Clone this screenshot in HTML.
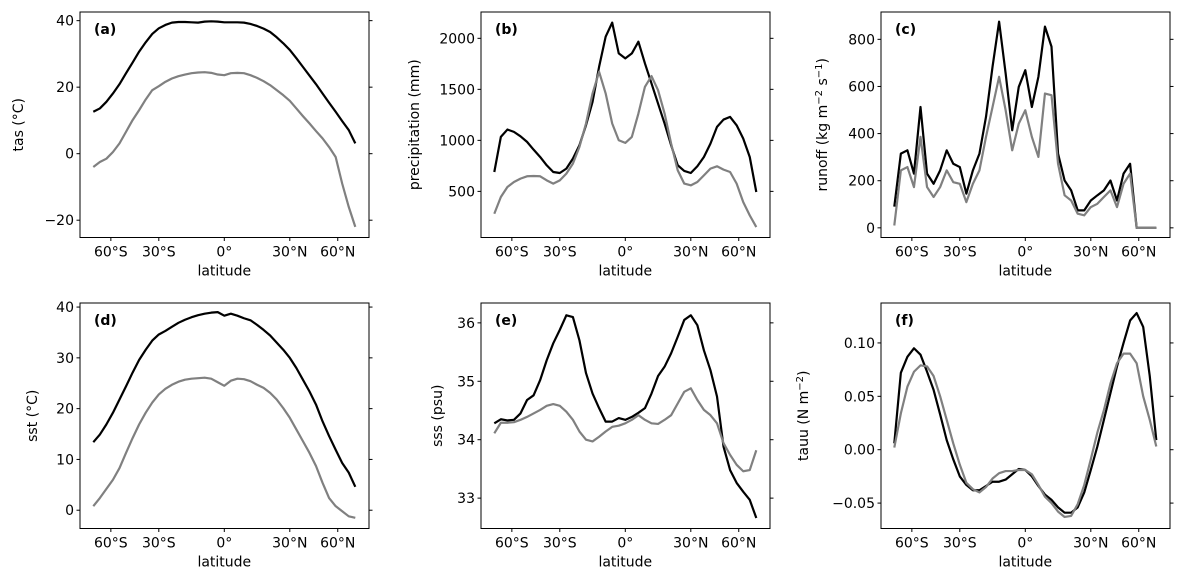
<!DOCTYPE html>
<html><head><meta charset="utf-8">
<style>
html,body{margin:0;padding:0;background:#fff;}
svg{display:block;font-family:"DejaVu Sans","Liberation Sans",sans-serif;}
</style></head>
<body>
<svg id="fig" width="1186" height="582" viewBox="0 0 1186 582" xmlns="http://www.w3.org/2000/svg"></svg>
<script>
// x positions sampled uniformly in sin(latitude), -1..1 step 0.05
const sinLat = [];
for (let k = 0; k <= 40; k++) sinLat.push(-1 + k * 0.05);
const xTickLabels = ["60°S", "30°S", "0°", "30°N", "60°N"];
const xTickLats = [-60, -30, 0, 30, 60];

const tasBlack = [12.6,13.6,15.6,18.1,20.9,24.2,27.4,30.7,33.5,36.0,37.7,38.7,39.4,39.6,39.6,39.5,39.4,39.7,39.8,39.7,39.5,39.5,39.5,39.4,39.0,38.4,37.6,36.6,35.0,33.2,31.2,28.7,26.1,23.5,20.9,18.1,15.3,12.6,9.8,7.1,3.1];
const tasGray = [-4.0,-2.5,-1.5,0.5,3.1,6.6,10.1,13.1,16.3,19.1,20.3,21.6,22.6,23.3,23.8,24.2,24.4,24.5,24.3,23.8,23.6,24.2,24.3,24.2,23.6,22.8,21.8,20.6,19.1,17.6,15.9,13.6,11.3,9.1,6.8,4.6,2.0,-1.0,-9.0,-16.0,-22.0];
const prBlack = [690,1034,1106,1083,1040,985,909,837,756,690,680,723,821,952,1148,1378,1721,2016,2154,1852,1803,1852,1967,1754,1558,1361,1165,952,756,700,680,746,837,968,1132,1204,1230,1148,1018,837,494];
const prGray = [281,445,543,592,625,648,651,648,608,576,608,674,772,936,1165,1460,1672,1460,1165,1001,975,1034,1263,1525,1630,1492,1263,968,707,576,559,592,657,723,746,713,690,576,396,265,150];
const roBlack = [90,315,329,230,513,230,187,244,329,272,258,145,244,315,471,684,875,655,414,598,669,513,641,854,769,315,201,159,74,74,116,138,159,201,116,230,272,0,0,0,0];
const roGray = [10,244,258,173,386,173,131,173,244,194,187,109,187,244,386,513,641,499,329,442,499,386,301,570,563,272,138,116,60,53,88,102,131,159,88,187,230,0,0,0,0];
const sstBlack = [13.4,14.9,16.9,19.2,21.8,24.4,27.1,29.6,31.6,33.4,34.6,35.3,36.1,36.9,37.5,38.0,38.4,38.7,38.9,39.0,38.3,38.7,38.3,37.8,37.4,36.5,35.5,34.4,33.0,31.6,30.0,28.0,25.7,23.4,20.8,17.5,14.6,11.9,9.3,7.4,4.6];
const sstGray = [0.8,2.4,4.2,6.0,8.3,11.3,14.2,16.9,19.2,21.2,22.8,23.9,24.7,25.3,25.7,25.9,26.0,26.1,25.9,25.2,24.5,25.5,25.9,25.8,25.4,24.7,24.1,23.1,21.8,20.1,18.2,15.9,13.6,11.3,8.7,5.4,2.4,0.8,-0.2,-1.2,-1.5];
const sssBlack = [34.28,34.35,34.33,34.34,34.45,34.68,34.76,35.02,35.36,35.65,35.88,36.13,36.10,35.70,35.14,34.79,34.54,34.31,34.31,34.37,34.34,34.39,34.46,34.54,34.79,35.09,35.25,35.48,35.76,36.05,36.13,35.96,35.53,35.19,34.74,33.88,33.48,33.26,33.11,32.97,32.66];
const sssGray = [34.11,34.29,34.29,34.30,34.34,34.39,34.45,34.51,34.58,34.61,34.58,34.48,34.34,34.14,34.00,33.97,34.05,34.14,34.22,34.24,34.28,34.34,34.42,34.34,34.28,34.27,34.34,34.42,34.62,34.82,34.88,34.68,34.51,34.42,34.28,33.94,33.74,33.57,33.46,33.48,33.82];
const tauBlack = [0.006,0.072,0.087,0.095,0.089,0.073,0.056,0.033,0.009,-0.009,-0.025,-0.033,-0.038,-0.038,-0.034,-0.030,-0.030,-0.028,-0.023,-0.018,-0.019,-0.025,-0.034,-0.042,-0.047,-0.054,-0.059,-0.059,-0.054,-0.040,-0.019,0.003,0.028,0.053,0.078,0.100,0.121,0.128,0.115,0.069,0.009];
const tauGray = [0.002,0.034,0.059,0.073,0.079,0.078,0.069,0.050,0.028,0.006,-0.014,-0.031,-0.037,-0.040,-0.035,-0.027,-0.022,-0.020,-0.020,-0.019,-0.019,-0.023,-0.033,-0.044,-0.050,-0.058,-0.063,-0.062,-0.051,-0.033,-0.009,0.016,0.037,0.062,0.081,0.090,0.090,0.081,0.050,0.028,0.003];

const yTicksA = [-20, 0, 20, 40];
const yTicksB = [500, 1000, 1500, 2000];
const yTicksC = [0, 200, 400, 600, 800];
const yTicksD = [0, 10, 20, 30, 40];
const yTicksE = [33, 34, 35, 36];
const yTicksF = [-0.05, 0.00, 0.05, 0.10];

const NS = "http://www.w3.org/2000/svg";
const fig = document.getElementById("fig");
function mk(tag, attrs, parent) {
  const e = document.createElementNS(NS, tag);
  for (const k in attrs) e.setAttribute(k, attrs[k]);
  (parent || fig).appendChild(e);
  return e;
}
const FS = "14";

const panels = [
  {id:"a", x0:80, y0:12, ymin:-25.2, ymax:42.6, ticks:yTicksA, fmt:v=>v===0?"0":(v<0?"\u221220":String(v)), black:tasBlack, gray:tasGray, ylab:"tas (°C)", labX:18},
  {id:"b", x0:481, y0:12, ymin:48, ymax:2258, ticks:yTicksB, fmt:v=>String(v), black:prBlack, gray:prGray, ylab:"precipitation (mm)", labX:414},
  {id:"c", x0:881, y0:12, ymin:-41, ymax:916, ticks:yTicksC, fmt:v=>String(v), black:roBlack, gray:roGray, ylab:"runoff", labX:822},
  {id:"d", x0:80, y0:303, ymin:-3.6, ymax:40.8, ticks:yTicksD, fmt:v=>String(v), black:sstBlack, gray:sstGray, ylab:"sst (°C)", labX:32},
  {id:"e", x0:481, y0:303, ymin:32.48, ymax:36.34, ticks:yTicksE, fmt:v=>String(v), black:sssBlack, gray:sssGray, ylab:"sss (psu)", labX:437},
  {id:"f", x0:881, y0:303, ymin:-0.0738, ymax:0.1374, ticks:yTicksF, fmt:v=>(v<0?"\u2212":"")+Math.abs(v).toFixed(2), black:tauBlack, gray:tauGray, ylab:"tau", labX:803}
];
const W = 289, H = 225.5;

panels.forEach(p => {
  const g = mk("g", {});
  
  
  const cx = p.x0 + 144.3;
  const xs = u => cx + 131 * u;
  const ys = v => p.y0 + (p.ymax - v) / (p.ymax - p.ymin) * H;
  const yb = p.y0 + H;
  [["black", p.black, "#000"], ["gray", p.gray, "#808080"]].forEach(([nm, arr, col]) => {
    const d = arr.map((v, i) => (i ? "L" : "M") + xs(sinLat[i]).toFixed(2) + " " + ys(v).toFixed(2)).join(" ");
    const path = mk("path", {d:d, fill:"none", stroke:col, "stroke-width":2.2, "stroke-linejoin":"round"}, g);
    
    
  });
  const fr = mk("rect", {x:p.x0, y:p.y0, width:W, height:H, fill:"none", stroke:"#000", "stroke-width":1}, g);
  
  
  xTickLats.forEach((lat, i) => {
    const x = xs(Math.sin(lat * Math.PI / 180));
    mk("line", {x1:x, x2:x, y1:yb, y2:yb + 3.5, stroke:"#000", "stroke-width":1}, g);
    const t = mk("text", {x:x, y:yb + 19, "text-anchor":"middle", "font-size":FS, fill:"#000"}, g);
    t.textContent = xTickLabels[i];
    
    
  });
  const xl = mk("text", {x:cx, y:yb + 38, "text-anchor":"middle", "font-size":FS}, g);
  xl.textContent = "latitude";
  
  
  p.ticks.forEach(v => {
    const y = ys(v);
    mk("line", {x1:p.x0 - 3.5, x2:p.x0, y1:y, y2:y, stroke:"#000", "stroke-width":1}, g);
    mk("line", {x1:p.x0 + W, x2:p.x0 + W + 3.5, y1:y, y2:y, stroke:"#000", "stroke-width":1}, g);
    const t = mk("text", {x:p.x0 - 6, y:y + 5, "text-anchor":"end", "font-size":FS}, g);
    t.textContent = p.fmt(v);
    
    
  });
  const cy = p.y0 + H / 2;
  const yl = mk("text", {x:0, y:0, "text-anchor":"middle", "font-size":FS, transform:"translate(" + (p.labX + 5) + "," + cy + ") rotate(-90)"}, g);
  
  
  if (p.ylab === "runoff") {
    yl.innerHTML = 'runoff (kg m<tspan dy="-5" font-size="10">\u22122</tspan><tspan dy="5"> s</tspan><tspan dy="-5" font-size="10">\u22121</tspan><tspan dy="5">)</tspan>';
  } else if (p.ylab === "tau") {
    yl.innerHTML = 'tauu (N m<tspan dy="-5" font-size="10">\u22122</tspan><tspan dy="5">)</tspan>';
  } else {
    yl.textContent = p.ylab;
  }
  const pl = mk("text", {x:p.x0 + 14, y:p.y0 + 22, "font-size":FS, "font-weight":"bold"}, g);
  pl.textContent = "(" + p.id + ")";
  
  
});
</script>
</body></html>
